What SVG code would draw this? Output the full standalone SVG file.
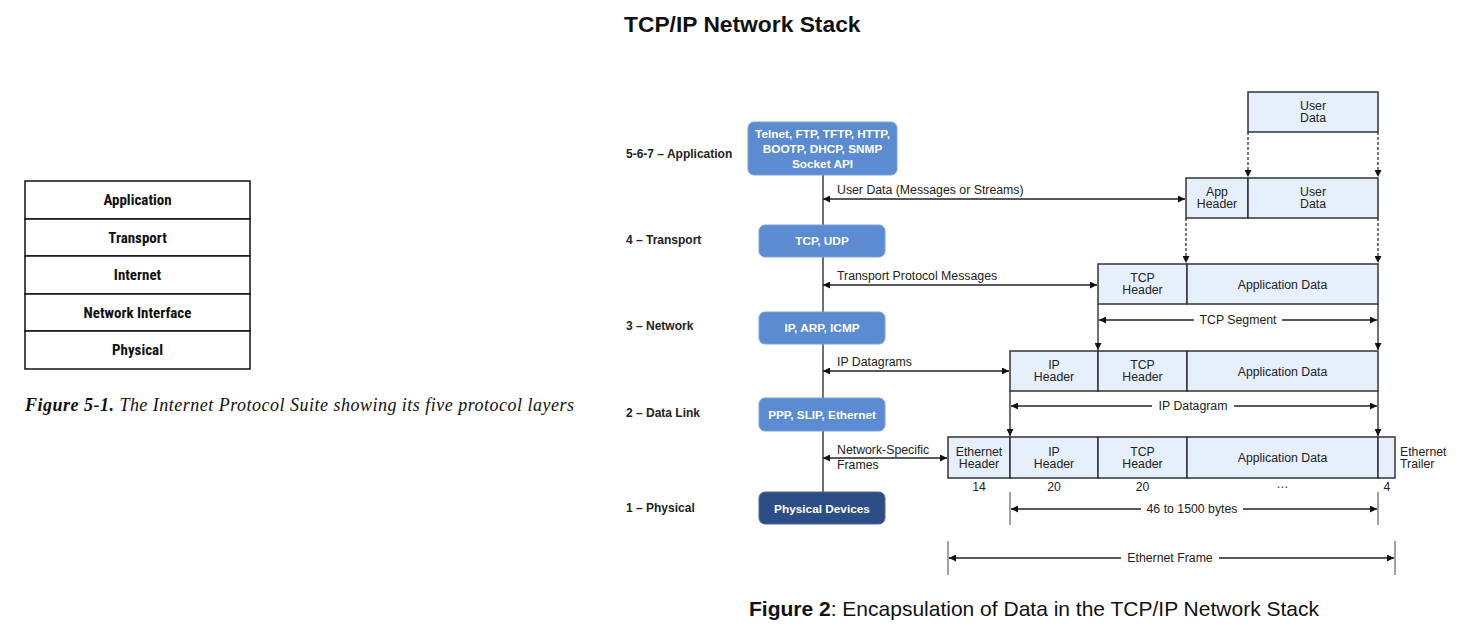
<svg xmlns="http://www.w3.org/2000/svg" width="1458" height="641" viewBox="0 0 1458 641">
<style>
.tbl{fill:#fff;stroke:#111;stroke-width:1.5}
.tt{font-family:"Liberation Sans Narrow","Roboto Condensed","Liberation Sans",sans-serif;font-weight:bold;font-size:15px;fill:#111;text-anchor:middle}
.lay{font-family:"Liberation Sans",Arial,sans-serif;font-weight:bold;font-size:12px;fill:#222}
.bx{fill:#5b8bd0;stroke:#7aa3dd;stroke-width:1}
.bxd{fill:#2d4d86;stroke:#4a6aa3;stroke-width:1}
.bt{font-family:"Liberation Sans",Arial,sans-serif;font-weight:bold;font-size:11.8px;fill:#fff;text-anchor:middle}
.pk{fill:#e6f0fc;stroke:#333;stroke-width:1.5}
.pt{font-family:"Liberation Sans",Arial,sans-serif;font-size:12.3px;fill:#222;text-anchor:middle}
.lt{font-family:"Liberation Sans",Arial,sans-serif;font-size:12.3px;fill:#222}
.ln{stroke:#222;stroke-width:1.3;fill:none}
.dl{stroke:#333;stroke-width:1.3;fill:none;stroke-dasharray:3,2}
.tk{stroke:#444;stroke-width:1;fill:none}
.wb{fill:#fff}
</style>
<defs>
<marker id="ah" viewBox="0 0 10 10" refX="10" refY="5" markerWidth="7" markerHeight="7" markerUnits="userSpaceOnUse" orient="auto-start-reverse">
<path d="M0,0 L10,5 L0,10 z" fill="#111"/>
</marker>
</defs>
<rect width="1458" height="641" fill="#fff"/>

<g id="protocol-suite-table">
<rect class="tbl" x="25" y="181" width="225" height="38"/>
<rect class="tbl" x="25" y="219" width="225" height="37"/>
<rect class="tbl" x="25" y="256" width="225" height="38"/>
<rect class="tbl" x="25" y="294" width="225" height="37"/>
<rect class="tbl" x="25" y="331" width="225" height="38"/>
<text class="tt" x="137.5" y="205">Application</text>
<text class="tt" x="137.5" y="243">Transport</text>
<text class="tt" x="137.5" y="280">Internet</text>
<text class="tt" x="137.5" y="318">Network Interface</text>
<text class="tt" x="137.5" y="355">Physical</text>
</g>
<g id="caption-left">
<text x="25" y="411" font-family="'Liberation Serif','Times New Roman',serif" font-style="italic" font-size="18" fill="#111" textLength="549" lengthAdjust="spacing"><tspan font-weight="bold">Figure 5-1.</tspan>  The Internet Protocol Suite showing its five protocol layers</text>
</g>

<g id="title">
<text x="624" y="32" font-family="'Liberation Sans',Arial,sans-serif" font-weight="bold" font-size="22.8" fill="#111">TCP/IP Network Stack</text>
</g>

<g id="layer-labels">
<text class="lay" x="626" y="158">5-6-7 – Application</text>
<text class="lay" x="626" y="244">4 – Transport</text>
<text class="lay" x="626" y="330">3 – Network</text>
<text class="lay" x="626" y="417">2 – Data Link</text>
<text class="lay" x="626" y="512">1 – Physical</text>
</g>

<g id="connectors">
<line class="ln" x1="823" y1="175" x2="823" y2="492"/>
<line class="ln" x1="823" y1="199" x2="1185" y2="199" marker-start="url(#ah)" marker-end="url(#ah)"/>
<line class="ln" x1="823" y1="285" x2="1097" y2="285" marker-start="url(#ah)" marker-end="url(#ah)"/>
<line class="ln" x1="823" y1="371" x2="1009" y2="371" marker-start="url(#ah)" marker-end="url(#ah)"/>
<line class="ln" x1="823" y1="458" x2="947" y2="458" marker-start="url(#ah)" marker-end="url(#ah)"/>
<line class="dl" x1="1248" y1="132" x2="1248" y2="177" marker-end="url(#ah)"/>
<line class="dl" x1="1378" y1="132" x2="1378" y2="177" marker-end="url(#ah)"/>
<line class="dl" x1="1186" y1="218" x2="1186" y2="263" marker-end="url(#ah)"/>
<line class="dl" x1="1378" y1="218" x2="1378" y2="263" marker-end="url(#ah)"/>
<line class="ln" x1="1098" y1="304" x2="1098" y2="350" marker-end="url(#ah)"/>
<line class="ln" x1="1378" y1="304" x2="1378" y2="350" marker-end="url(#ah)"/>
<line class="ln" x1="1010" y1="391" x2="1010" y2="436" marker-end="url(#ah)"/>
<line class="ln" x1="1378" y1="391" x2="1378" y2="436" marker-end="url(#ah)"/>
<line class="ln" x1="1099" y1="320" x2="1377" y2="320" marker-start="url(#ah)" marker-end="url(#ah)"/>
<line class="ln" x1="1011" y1="406" x2="1377" y2="406" marker-start="url(#ah)" marker-end="url(#ah)"/>
<line class="tk" x1="1010" y1="492" x2="1010" y2="525"/>
<line class="tk" x1="1378" y1="492" x2="1378" y2="525"/>
<line class="ln" x1="1011" y1="509" x2="1377" y2="509" marker-start="url(#ah)" marker-end="url(#ah)"/>
<line class="tk" x1="948" y1="541" x2="948" y2="575"/>
<line class="tk" x1="1395" y1="541" x2="1395" y2="575"/>
<line class="ln" x1="949" y1="558" x2="1394" y2="558" marker-start="url(#ah)" marker-end="url(#ah)"/>
</g>

<g id="connector-labels">
<text class="lt" x="837" y="194">User Data (Messages or Streams)</text>
<text class="lt" x="837" y="280">Transport Protocol Messages</text>
<text class="lt" x="837" y="366">IP Datagrams</text>
<text class="lt" x="837" y="454">Network-Specific</text>
<text class="lt" x="837" y="469">Frames</text>
<rect class="wb" x="1194" y="312" width="88" height="16"/>
<text class="pt" x="1238" y="324">TCP Segment</text>
<rect class="wb" x="1152" y="398" width="82" height="16"/>
<text class="pt" x="1193" y="410">IP Datagram</text>
<rect class="wb" x="1141" y="501" width="102" height="16"/>
<text class="pt" x="1192" y="513">46 to 1500 bytes</text>
<rect class="wb" x="1121" y="550" width="98" height="16"/>
<text class="pt" x="1170" y="562">Ethernet Frame</text>
</g>

<g id="node-application">
<rect class="bx" x="748" y="122" width="149" height="53" rx="6"/>
<text class="bt" x="822.5" y="138">Telnet, FTP, TFTP, HTTP,</text>
<text class="bt" x="822.5" y="153">BOOTP, DHCP, SNMP</text>
<text class="bt" x="822.5" y="168">Socket API</text>
</g>
<g id="node-transport">
<rect class="bx" x="759" y="225" width="126" height="32" rx="6"/>
<text class="bt" x="822" y="245">TCP, UDP</text>
</g>
<g id="node-network">
<rect class="bx" x="759" y="312" width="126" height="32" rx="6"/>
<text class="bt" x="822" y="332">IP, ARP, ICMP</text>
</g>
<g id="node-datalink">
<rect class="bx" x="759" y="398" width="126" height="33" rx="6"/>
<text class="bt" x="822" y="419">PPP, SLIP, Ethernet</text>
</g>
<g id="node-physical">
<rect class="bxd" x="759" y="492" width="126" height="32" rx="6"/>
<text class="bt" x="822" y="513">Physical Devices</text>
</g>

<g id="packet-user-data">
<rect class="pk" x="1248" y="92" width="130" height="40"/>
<text class="pt" x="1313" y="110">User</text>
<text class="pt" x="1313" y="122">Data</text>
</g>
<g id="packet-app">
<rect class="pk" x="1186" y="178" width="62" height="40"/>
<rect class="pk" x="1248" y="178" width="130" height="40"/>
<text class="pt" x="1217" y="196">App</text>
<text class="pt" x="1217" y="208">Header</text>
<text class="pt" x="1313" y="196">User</text>
<text class="pt" x="1313" y="208">Data</text>
</g>
<g id="packet-tcp">
<rect class="pk" x="1098" y="264" width="89" height="40"/>
<rect class="pk" x="1187" y="264" width="191" height="40"/>
<text class="pt" x="1142.5" y="282">TCP</text>
<text class="pt" x="1142.5" y="294">Header</text>
<text class="pt" x="1282.5" y="289">Application Data</text>
</g>
<g id="packet-ip">
<rect class="pk" x="1010" y="351" width="88" height="40"/>
<rect class="pk" x="1098" y="351" width="89" height="40"/>
<rect class="pk" x="1187" y="351" width="191" height="40"/>
<text class="pt" x="1054" y="369">IP</text>
<text class="pt" x="1054" y="381">Header</text>
<text class="pt" x="1142.5" y="369">TCP</text>
<text class="pt" x="1142.5" y="381">Header</text>
<text class="pt" x="1282.5" y="376">Application Data</text>
</g>
<g id="packet-ethernet">
<rect class="pk" x="948" y="437" width="62" height="41"/>
<rect class="pk" x="1010" y="437" width="88" height="41"/>
<rect class="pk" x="1098" y="437" width="89" height="41"/>
<rect class="pk" x="1187" y="437" width="191" height="41"/>
<rect class="pk" x="1378" y="437" width="17" height="41"/>
<text class="pt" x="979" y="456">Ethernet</text>
<text class="pt" x="979" y="468">Header</text>
<text class="pt" x="1054" y="456">IP</text>
<text class="pt" x="1054" y="468">Header</text>
<text class="pt" x="1142.5" y="456">TCP</text>
<text class="pt" x="1142.5" y="468">Header</text>
<text class="pt" x="1282.5" y="462">Application Data</text>
<text class="lt" x="1400" y="456">Ethernet</text>
<text class="lt" x="1400" y="468">Trailer</text>
<text class="pt" x="979" y="491">14</text>
<text class="pt" x="1054" y="491">20</text>
<text class="pt" x="1142.5" y="491">20</text>
<text class="pt" x="1282.5" y="488" fill="#777">…</text>
<text class="pt" x="1387" y="491">4</text>
</g>

<g id="caption-right">
<text x="749" y="616" font-family="'Liberation Sans',Arial,sans-serif" font-size="21" fill="#111"><tspan font-weight="bold">Figure 2</tspan>: Encapsulation of Data in the TCP/IP Network Stack</text>
</g>
</svg>
